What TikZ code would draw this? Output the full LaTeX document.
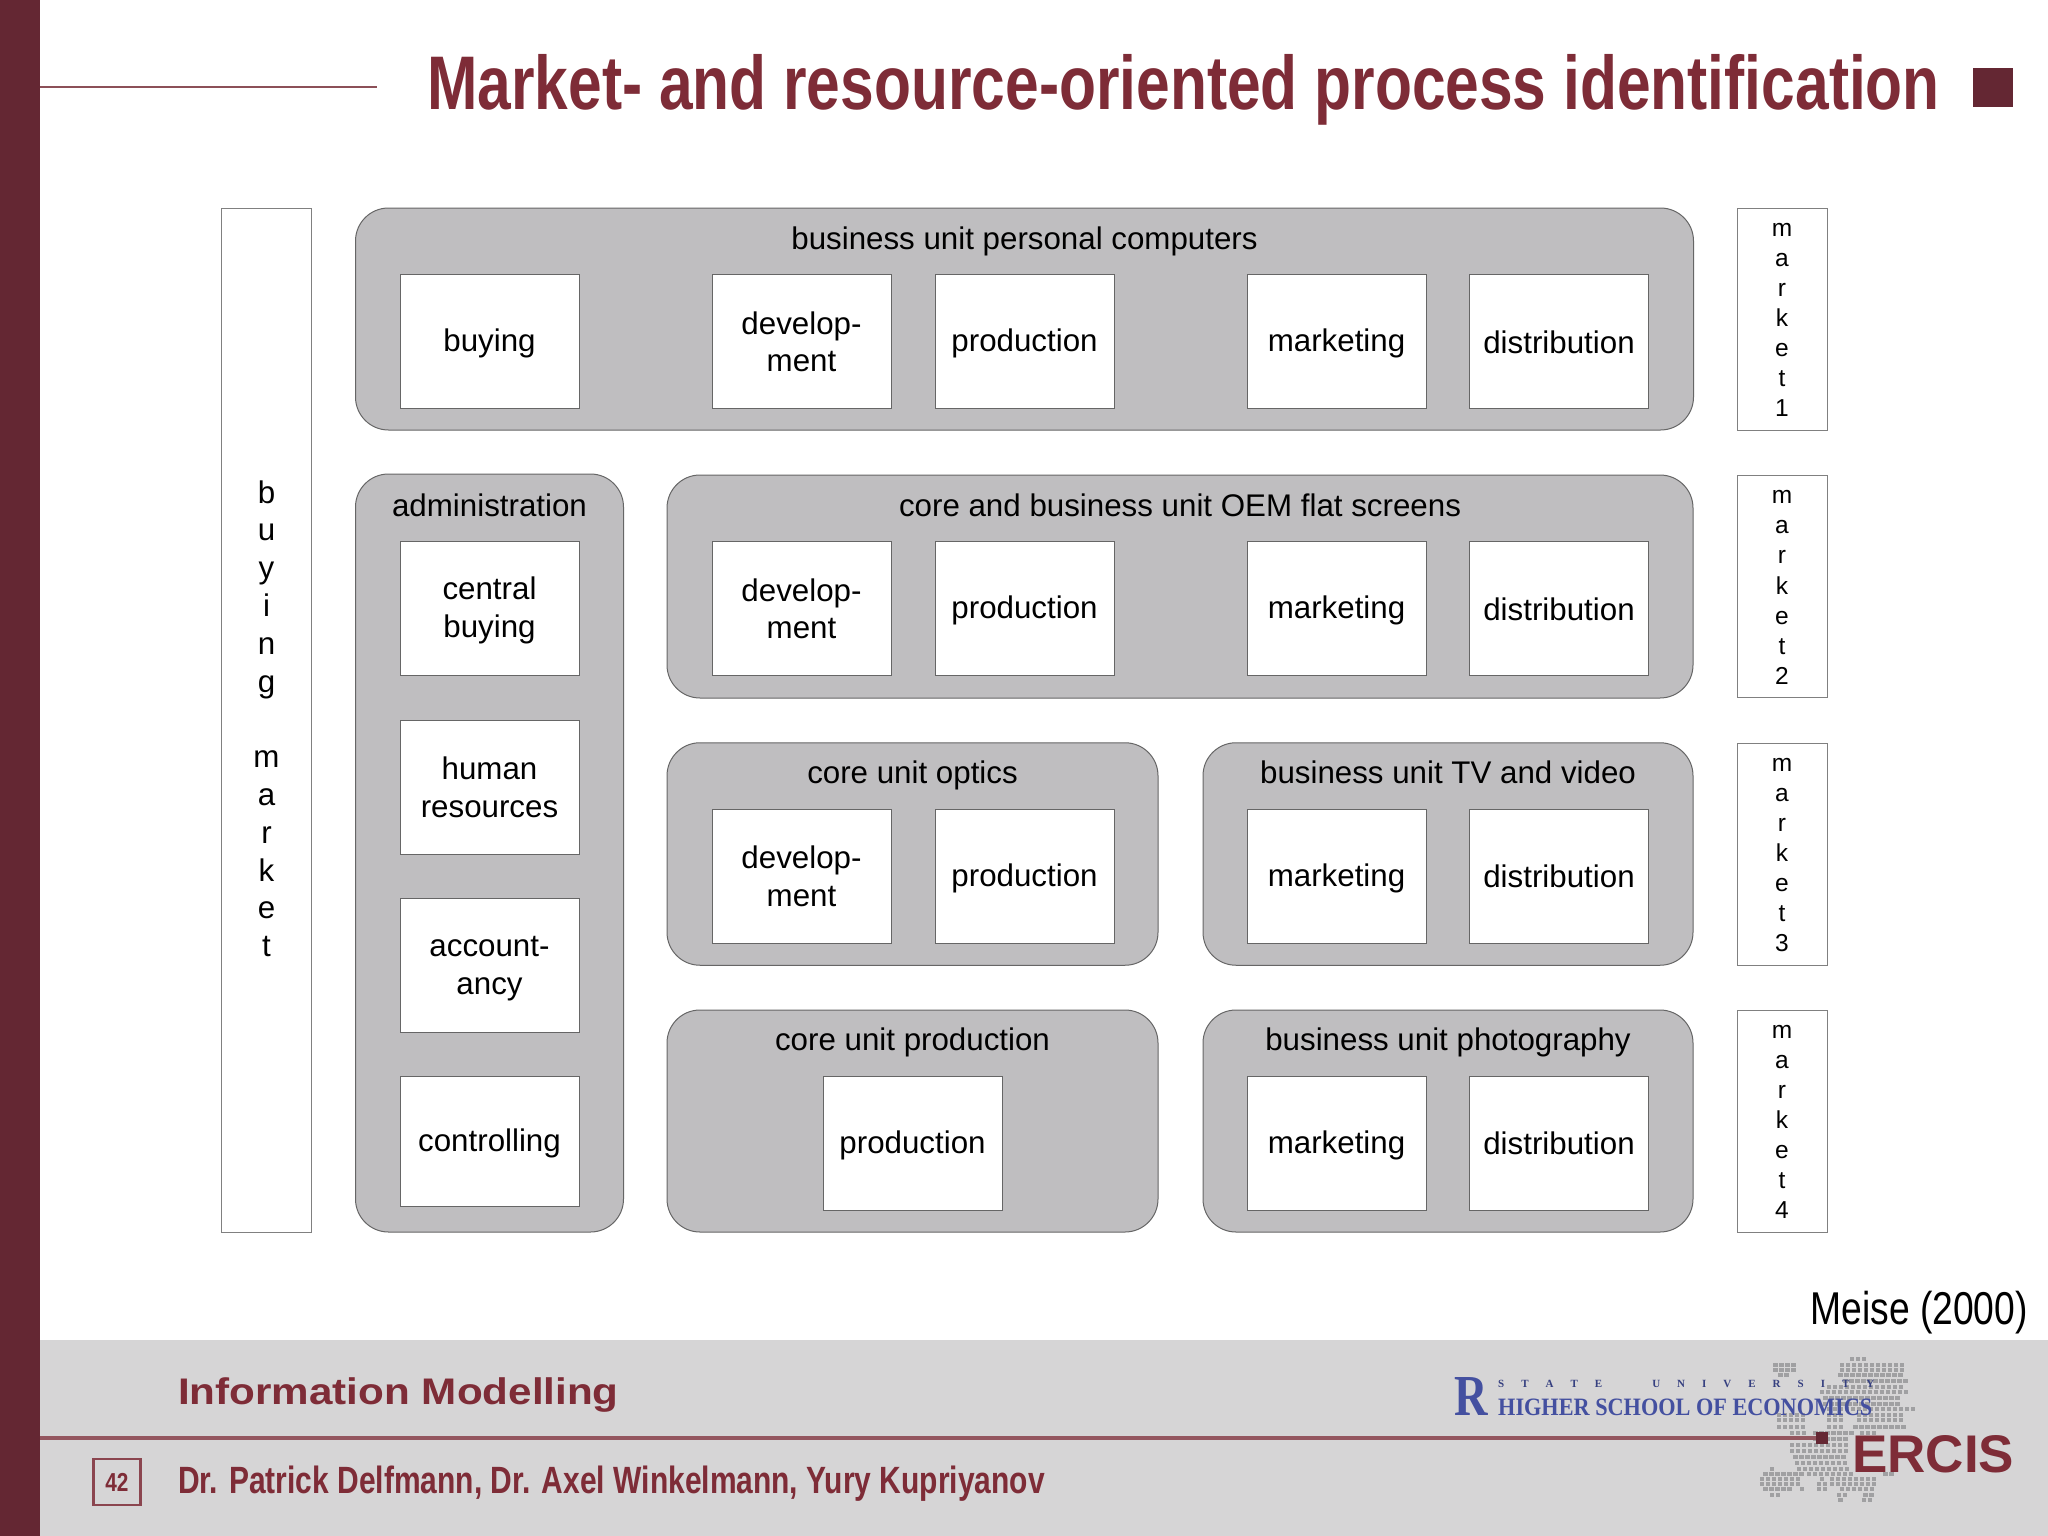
\documentclass[tikz,border=0pt]{standalone}
\usepackage{fontspec}
\setmainfont{Liberation Sans}
\newfontfamily\serifhse{Liberation Serif}
\definecolor{wine}{HTML}{7E2C37}
\definecolor{bar}{HTML}{642733}
\definecolor{band}{HTML}{D6D5D6}
\definecolor{panelgrey}{HTML}{BFBEC0}
\definecolor{hse}{HTML}{4450A0}
\definecolor{dotgrey}{HTML}{A0A0A2}
\definecolor{topline}{HTML}{8C5058}
\tikzset{
  panel/.style={draw=black!60,line width=1pt,fill=panelgrey,rounded corners=33pt,rectangle,inner sep=0pt},
  cell/.style={draw=black!60,line width=1pt,fill=white,rectangle,inner sep=0pt,align=center,minimum width=179pt,font=\fontsize{31.3}{37.8}\selectfont},
  ptitle/.style={anchor=base,inner sep=0pt,font=\fontsize{31.3}{37.8}\selectfont},
  side/.style={draw=black!50,line width=1pt,fill=white,rectangle,inner sep=0pt,align=center,minimum width=90pt},
  mkt/.style={side,minimum height=222pt,font=\fontsize{24.5}{30.05}\selectfont},
  wbold/.style={text=wine,inner sep=0pt,anchor=base west},
}
\newcommand{\cs}{\rule[-4pt]{0pt}{31pt}}
\newcommand{\mktext}[1]{\rule{0pt}{15pt}m\\a\\r\\k\\e\\t\\#1}
\begin{document}
\begin{tikzpicture}[x=1pt,y=-1pt]
\useasboundingbox (0,0) rectangle (2048,1536);
\fill[white] (0,0) rectangle (2048,1536);
% frame
\fill[band] (40,1340) rectangle (2048,1536);
\fill[bar] (0,0) rectangle (40,1536);
\draw[topline,line width=2.5pt] (40,87) -- (377,87);
\node[wbold] (title) at (427,110) {\scalebox{0.796}[1]{\fontsize{76}{80}\selectfont\bfseries Market- and resource-oriented process identification}};
\fill[bar] (1973,68) rectangle (2013,107);
% left market
\node[side,minimum height=1024pt,font=\fontsize{31.3}{37.8}\selectfont] (bm) at (266.5,720) {b\\u\\y\\i\\n\\g\\\mbox{}\\m\\a\\r\\k\\e\\t\rule[-3pt]{0pt}{3pt}};
% market boxes
\node[mkt] (m1) at (1782,319) {\mktext{1}};
\node[mkt] (m2) at (1782,586.5) {\mktext{2}};
\node[mkt] (m3) at (1782,854) {\mktext{3}};
\node[mkt] (m4) at (1782,1121) {\mktext{4}};
% panels
\node[panel,minimum width=1338pt,minimum height=222pt] (p1) at (1024.5,319) {};
\node[panel,minimum width=268pt,minimum height=758pt] (padm) at (489.5,853) {};
\node[panel,minimum width=1026pt,minimum height=223pt] (p2) at (1180,586.5) {};
\node[panel,minimum width=491pt,minimum height=222.5pt] (p3a) at (912.5,854) {};
\node[panel,minimum width=490pt,minimum height=222.5pt] (p3b) at (1448,854) {};
\node[panel,minimum width=491pt,minimum height=222pt] (p4a) at (912.5,1121) {};
\node[panel,minimum width=490pt,minimum height=222pt] (p4b) at (1448,1121) {};
% panel titles
\node[ptitle] (t1) at (1024.5,249.5) {business unit personal computers};
\node[ptitle] (tadm) at (489.5,516) {administration};
\node[ptitle] (t2) at (1180,516) {core and business unit OEM flat screens};
\node[ptitle] (t3a) at (912.5,783) {core unit optics};
\node[ptitle] (t3b) at (1448,783) {business unit TV and video};
\node[ptitle] (t4a) at (912.5,1050.5) {core unit production};
\node[ptitle] (t4b) at (1448,1050.5) {business unit photography};
% cells
\begin{scope}[every node/.append style={cell,minimum height=134pt}]
\node (a1) at (489.5,341.5) {\cs buying};
\node (a2) at (801.5,341.5) {\cs develop-\\\cs ment};
\node (a3) at (1024.5,341.5) {\cs production};
\node (a4) at (1336.5,341.5) {\cs marketing};
\node (a5) at (1559,341.5) {\cs distribution};
\node (b1) at (801.5,608.5) {\cs develop-\\\cs ment};
\node (b2) at (1024.5,608.5) {\cs production};
\node (b3) at (1336.5,608.5) {\cs marketing};
\node (b4) at (1559,608.5) {\cs distribution};
\node (c1) at (801.5,876) {\cs develop-\\\cs ment};
\node (c2) at (1024.5,876) {\cs production};
\node (c3) at (1336.5,876) {\cs marketing};
\node (c4) at (1559,876) {\cs distribution};
\node (d1) at (912.5,1143) {\cs production};
\node (d2) at (1336.5,1143) {\cs marketing};
\node (d3) at (1559,1143) {\cs distribution};
\node (e1) at (489.5,608.5) {\cs central\\\cs buying};
\node (e2) at (489.5,787) {\cs human\\\cs resources};
\node (e3) at (489.5,965) {\cs account-\\\cs ancy};
\node[minimum height=130pt] (e4) at (489.5,1141) {\cs controlling};
\end{scope}
% source
\node[anchor=base east,inner sep=0pt] (src) at (2028,1324) {\scalebox{0.81}[1]{\fontsize{46}{50}\selectfont Meise (2000)}};
% footer
\node[wbold] (im) at (178,1404) {\scalebox{1.14}[1]{\fontsize{37}{40}\selectfont\bfseries Information Modelling}};
\node[rectangle,draw=wine!85!band,line width=2.5pt,minimum width=47pt,minimum height=46pt,inner sep=0pt,text=wine] (pg) at (117,1482) {\scalebox{0.8}[1]{\fontsize{26}{28}\selectfont\bfseries 42}};
\node[wbold] (auth) at (178,1493) {\scalebox{0.789}[1]{\fontsize{38}{42}\selectfont\bfseries Dr. Patrick Delfmann, Dr. Axel Winkelmann, Yury Kupriyanov}};
% Europe map of dots (rows: zoom y / from x / to x, relative to the crop origin, 3 units per pixel)
\foreach \zy/\za/\zb in {
50/330/380,68/100/160,68/300/490,85/100/160,85/300/480,100/115/150,100/295/490,118/310/490,135/260/490,
150/240/500,168/250/480,185/250/480,200/260/520,218/110/190,218/260/300,218/350/490,235/110/190,235/260/300,235/350/490,
255/110/190,255/260/300,255/340/490,272/150/190,272/220/330,272/360/410,290/220/320,310/150/320,328/150/320,345/160/320,
362/165/320,380/90/100,380/170/320,395/70/190,395/200/340,395/430/460,410/60/180,410/240/250,410/270/400,
425/60/170,425/230/250,425/270/400,440/70/150,440/180/190,440/230/250,440/300/400,458/90/110,458/290/320,458/370/400,475/295/310,475/365/385}{
  \pgfmathtruncatemacro{\nn}{(\zb-\za)/18}
  \foreach \k in {0,...,\nn} {
    \fill[dotgrey] ({1740+(\za+18*\k)/3},{1340+\zy/3}) rectangle +(4.4,4);
  }
}
% rule and logos
\draw[wine!75!band,line width=3.5pt] (40,1438) -- (1822,1438);
\node[anchor=base west,inner sep=0pt,text=hse] (hsr) at (1454,1415) {\scalebox{0.8}[1]{\serifhse\bfseries\fontsize{58}{58}\selectfont R}};
\node[anchor=base west,inner sep=0pt,text=hse!80!black] (hst) at (1498,1387) {\serifhse\bfseries\fontsize{11}{12}\selectfont S\hspace{17pt}T\hspace{17pt}A\hspace{17pt}T\hspace{17pt}E\hspace{50pt}U\hspace{17pt}N\hspace{17pt}I\hspace{17pt}V\hspace{17pt}E\hspace{17pt}R\hspace{17pt}S\hspace{17pt}I\hspace{17pt}T\hspace{17pt}Y};
\node[anchor=base west,inner sep=0pt,text=hse] (hsh) at (1498,1415) {\scalebox{0.89}[1]{\serifhse\bfseries\fontsize{25}{26}\selectfont HIGHER SCHOOL OF ECONOMICS}};
\fill[bar] (1816,1432) rectangle (1828,1444);
\node[wbold] (er) at (1852,1472) {\fontsize{53}{55}\selectfont\bfseries ERCIS};
\end{tikzpicture}
\end{document}
